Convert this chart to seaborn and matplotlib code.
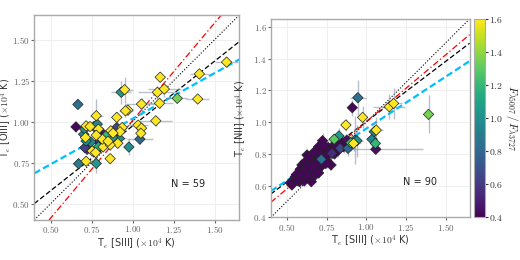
import numpy as np
import pandas as pd
import matplotlib
matplotlib.use("Agg")
import matplotlib.pyplot as plt
import seaborn as sns
from matplotlib.ticker import FuncFormatter, MultipleLocator

# left panel: Te[SIII] vs Te[OIII]
s3_left = [0.654, 0.666, 0.716, 0.670, 0.716, 0.778, 0.778, 0.764, 0.784, 0.708,
           0.701, 0.712, 0.716, 0.708, 0.722, 0.753, 0.774, 0.791, 0.795, 0.791,
           0.811, 0.778, 0.815, 0.820, 0.836, 0.863, 0.863, 0.867, 0.878, 0.898,
           0.903, 0.909, 0.919, 0.923, 0.936, 0.903, 0.930, 0.951, 0.956, 0.971,
           0.977, 1.033, 1.044, 1.054, 1.054, 1.050, 1.141, 1.151, 1.164, 1.168,
           1.193, 1.272, 1.397, 1.407, 1.573, 0.740, 0.850, 0.745, 0.880]
o3_left = [0.968, 1.105, 0.974, 0.743, 0.758, 1.036, 0.745, 0.970, 0.985, 0.954,
           0.923, 0.903, 0.882, 0.841, 0.831, 0.821, 0.811, 0.846, 0.876, 0.954,
           0.934, 0.917, 0.893, 0.846, 0.913, 0.774, 0.858, 0.944, 0.903, 0.893,
           0.964, 0.868, 0.897, 0.938, 0.964, 1.026, 1.179, 1.195, 1.066, 1.070,
           0.845, 0.979, 0.893, 1.107, 0.960, 0.929, 1.005, 1.179, 1.112, 1.271,
           1.199, 1.142, 1.138, 1.291, 1.363, 0.970, 0.880, 0.875, 0.930]
ratio_left = [0.42, 0.85, 1.8, 0.90, 1.8, 1.8, 1.05, 0.80, 0.95, 1.00,
              0.95, 1.8, 1.00, 0.62, 0.55, 1.8, 1.8, 1.15, 0.58, 1.8,
              0.48, 1.8, 1.8, 1.8, 1.20, 1.8, 1.8, 1.8, 1.10, 0.60,
              0.65, 1.8, 1.00, 1.8, 1.8, 1.8, 1.05, 1.8, 1.8, 1.8,
              1.00, 1.8, 0.80, 1.8, 1.8, 1.8, 1.8, 1.8, 1.8, 1.8,
              1.8, 1.35, 1.8, 1.8, 1.8, 1.8, 1.8, 0.95, 1.8]
xerr_left = [0.02, 0.01, 0.03, 0.02, 0.02, 0.04, 0.02, 0.03, 0.03, 0.02,
             0.03, 0.02, 0.03, 0.02, 0.03, 0.02, 0.02, 0.03, 0.03, 0.02,
             0.03, 0.02, 0.02, 0.02, 0.03, 0.02, 0.03, 0.02, 0.04, 0.05,
             0.03, 0.03, 0.04, 0.02, 0.03, 0.02, 0.06, 0.05, 0.04, 0.03,
             0.02, 0.06, 0.08, 0.10, 0.03, 0.02, 0.10, 0.12, 0.08, 0.03,
             0.10, 0.06, 0.07, 0.06, 0.07, 0.02, 0.02, 0.02, 0.02]
yerr_left = [0.03, 0.01, 0.03, 0.02, 0.03, 0.10, 0.06, 0.03, 0.04, 0.03,
             0.02, 0.02, 0.03, 0.02, 0.02, 0.03, 0.02, 0.03, 0.03, 0.02,
             0.03, 0.03, 0.02, 0.03, 0.02, 0.02, 0.03, 0.02, 0.03, 0.04,
             0.03, 0.03, 0.03, 0.02, 0.03, 0.03, 0.07, 0.08, 0.04, 0.03,
             0.05, 0.03, 0.03, 0.04, 0.03, 0.03, 0.03, 0.04, 0.03, 0.03,
             0.05, 0.02, 0.02, 0.03, 0.03, 0.02, 0.02, 0.02, 0.02]

# right panel: Te[SIII] vs Te[NII]
s3_right = [0.522, 0.532, 0.570, 0.574, 0.605, 0.611, 0.584, 0.627, 0.637, 0.658,
            0.668, 0.674, 0.654, 0.689, 0.700, 0.710, 0.679, 0.731, 0.721, 0.742,
            0.700, 0.725, 0.763, 0.784, 0.805, 0.826, 0.857, 0.778, 0.627, 0.595,
            0.553, 0.616, 0.580, 0.654, 0.640, 0.660, 0.690, 0.620, 0.650, 0.680,
            0.700, 0.720, 0.740, 0.760, 0.800, 0.820, 0.600, 0.560, 0.640, 0.670,
            0.710, 0.730, 0.750, 0.790, 0.840, 0.610, 0.590, 0.660, 0.700, 0.630,
            0.720, 0.770, 0.810, 0.860, 0.690, 0.740, 0.745,
            0.947, 0.912, 1.145, 1.172, 1.392, 0.977, 0.872, 0.828, 0.798, 1.036,
            1.057, 1.063, 1.050, 0.930, 0.941, 0.920, 0.903, 0.885, 1.060, 0.717,
            0.784, 0.836, 0.878]
n2_right = [0.618, 0.604, 0.631, 0.667, 0.646, 0.681, 0.703, 0.709, 0.740, 0.698,
            0.730, 0.761, 0.772, 0.793, 0.750, 0.715, 0.667, 0.772, 0.813, 0.845,
            0.845, 0.883, 0.803, 0.824, 0.845, 0.856, 0.845, 0.730, 0.793, 0.730,
            0.656, 0.750, 0.625, 0.625, 0.680, 0.660, 0.700, 0.720, 0.750, 0.780,
            0.780, 0.740, 0.800, 0.840, 0.800, 0.820, 0.690, 0.670, 0.780, 0.810,
            0.820, 0.850, 0.760, 0.850, 0.880, 0.630, 0.660, 0.720, 0.680, 0.660,
            0.790, 0.820, 0.860, 0.870, 0.740, 0.780, 0.740,
            1.154, 1.091, 1.097, 1.118, 1.049, 1.030, 0.982, 0.913, 0.892, 0.892,
            0.866, 0.950, 0.940, 0.887, 0.883, 0.866, 0.870, 0.835, 0.829, 0.766,
            0.803, 0.835, 0.887]
ratio_right = [0.42] * 67 + [
    0.85, 0.42, 1.8, 1.8, 1.35, 1.8, 1.8, 1.05, 1.30, 0.95,
    1.20, 1.8, 0.95, 0.95, 1.00, 1.8, 1.25, 0.80, 0.45, 0.85,
    0.55, 0.65, 0.45]
xerr_right = [0.02, 0.02, 0.03, 0.02, 0.03, 0.02, 0.03, 0.02, 0.03, 0.04,
              0.02, 0.03, 0.02, 0.03, 0.02, 0.04, 0.02, 0.03, 0.03, 0.04,
              0.02, 0.03, 0.03, 0.02, 0.04, 0.03, 0.03, 0.03, 0.02, 0.02,
              0.02, 0.03, 0.02, 0.03, 0.02, 0.02, 0.03, 0.02, 0.03, 0.02,
              0.03, 0.02, 0.03, 0.02, 0.03, 0.02, 0.02, 0.02, 0.03, 0.02,
              0.03, 0.02, 0.03, 0.03, 0.02, 0.02, 0.02, 0.03, 0.02, 0.02,
              0.03, 0.02, 0.03, 0.02, 0.02, 0.03, 0.02,
              0.05, 0.02, 0.10, 0.05, 0.03, 0.03, 0.02, 0.03, 0.04, 0.03,
              0.03, 0.04, 0.03, 0.03, 0.04, 0.05, 0.03, 0.02, 0.30, 0.02,
              0.03, 0.03, 0.03]
yerr_right = [0.03, 0.02, 0.03, 0.04, 0.03, 0.04, 0.03, 0.04, 0.05, 0.03,
              0.04, 0.03, 0.05, 0.04, 0.03, 0.04, 0.03, 0.04, 0.05, 0.04,
              0.03, 0.05, 0.04, 0.04, 0.03, 0.04, 0.04, 0.03, 0.04, 0.03,
              0.03, 0.04, 0.03, 0.03, 0.04, 0.03, 0.04, 0.03, 0.03, 0.04,
              0.03, 0.04, 0.03, 0.05, 0.03, 0.04, 0.03, 0.03, 0.04, 0.03,
              0.04, 0.03, 0.04, 0.04, 0.03, 0.03, 0.03, 0.04, 0.03, 0.03,
              0.04, 0.03, 0.04, 0.03, 0.03, 0.04, 0.03,
              0.11, 0.05, 0.08, 0.10, 0.12, 0.07, 0.04, 0.05, 0.04, 0.06,
              0.05, 0.08, 0.06, 0.15, 0.10, 0.05, 0.05, 0.05, 0.02, 0.03,
              0.03, 0.03, 0.03]

# fits: [slope, intercept] for black dashed, red dash-dot, blue dashed
fit_left = {"black": [0.79, 0.184], "red": [1.19, -0.183], "blue": [0.556, 0.462]}
fit_right = {"black": [0.76, 0.243], "red": [0.845, 0.157], "blue": [0.655, 0.304]}

sns.set_style("whitegrid")
plt.rcParams["mathtext.fontset"] = "cm"
plt.rcParams["font.family"] = ["DejaVu Sans"]

norm = plt.Normalize(0.4, 1.6)
fig = plt.figure(figsize=(5.2, 2.6), dpi=100)
ax1 = fig.add_axes([0.066, 0.154, 0.394, 0.788])
ax2 = fig.add_axes([0.521, 0.164, 0.382, 0.763])
cax = fig.add_axes([0.912, 0.164, 0.021, 0.763])

panels = [
    (ax1, s3_left, o3_left, ratio_left, xerr_left, yerr_left, fit_left,
     r"T$_e$ [OIII] ($\times10^4$ K)", "N = 59", 0.25, "$%.2f$", -0.10),
    (ax2, s3_right, n2_right, ratio_right, xerr_right, yerr_right, fit_right,
     r"T$_e$ [NII] ($\times10^4$ K)", "N = 90", 0.2, "$%.1f$", -0.108),
]

for ax, xs, ys, cs, xe, ye, fit, ylab, ntxt, ystep, yfmt, ylx in panels:
    df = pd.DataFrame({"x": xs, "y": ys, "c": cs, "xe": xe, "ye": ye})
    df = df.sort_values("c")
    ax.errorbar(df["x"], df["y"], xerr=df["xe"], yerr=df["ye"], fmt="none",
                ecolor="#8797ab", alpha=0.6, elinewidth=1.0, zorder=2)
    sns.scatterplot(data=df, x="x", y="y", hue="c", palette="viridis",
                    hue_norm=norm, marker="D", s=28, edgecolor="#222222",
                    linewidth=0.5, legend=False, ax=ax, zorder=3)
    ax.axline((0, 0), slope=1, color="k", ls=":", lw=0.8, zorder=1)
    ax.axline((0, fit["black"][1]), slope=fit["black"][0], color="k",
              ls=(0, (4, 2)), lw=0.9, zorder=1)
    ax.axline((0, fit["red"][1]), slope=fit["red"][0], color="red",
              ls=(0, (5, 2, 1, 2)), lw=0.9, zorder=1)
    ax.axline((0, fit["blue"][1]), slope=fit["blue"][0], color="deepskyblue",
              ls=(0, (3, 1.5)), lw=1.6, zorder=1)
    ax.set_xlim(0.4, 1.65)
    ax.set_ylim(0.4, 1.65)
    ax.xaxis.set_major_locator(MultipleLocator(0.25))
    ax.yaxis.set_major_locator(MultipleLocator(ystep))
    ax.xaxis.set_major_formatter(FuncFormatter(lambda v, p: "$%.2f$" % v))
    ax.yaxis.set_major_formatter(FuncFormatter(lambda v, p, f=yfmt: f % v))
    ax.tick_params(labelsize=6.5, colors="#666666", length=2, pad=1,
                   left=True, bottom=True)
    ax.grid(color="#ececec", lw=0.6)
    for sp in ax.spines.values():
        sp.set_color("#aaaaaa")
        sp.set_linewidth(1.0)
    ax.set_xlabel(r"T$_e$ [SIII] ($\times10^4$ K)", fontsize=7,
                  color="#333333", labelpad=1)
    ax.set_ylabel(ylab, fontsize=7, color="#333333")
    ax.yaxis.set_label_coords(ylx, 0.5)
    ax.text(1.34, 0.62, ntxt, fontsize=7, ha="center", va="center",
            color="#222222")

# tick labels of the left panel need only the 0.50..1.50 range
ax1.set_yticks([0.5, 0.75, 1.0, 1.25, 1.5])
ax1.set_xticks([0.5, 0.75, 1.0, 1.25, 1.5])
ax2.set_xticks([0.5, 0.75, 1.0, 1.25, 1.5])

sm = plt.cm.ScalarMappable(norm=norm, cmap="viridis")
cb = fig.colorbar(sm, cax=cax)
cb.set_ticks([0.4, 0.6, 0.8, 1.0, 1.2, 1.4, 1.6])
cb.ax.yaxis.set_major_formatter(FuncFormatter(lambda v, p: "$%.1f$" % v))
cb.ax.tick_params(labelsize=7, length=2, pad=1, colors="#333333")
cb.outline.set_edgecolor("#aaaaaa")
cb.set_label(r"$F_{\lambda5007}\,/\,F_{\lambda3727}$", fontsize=8,
             rotation=270, va="center")
cb.ax.yaxis.set_label_coords(3.5, 0.5)

fig.savefig("out.png", dpi=100)
